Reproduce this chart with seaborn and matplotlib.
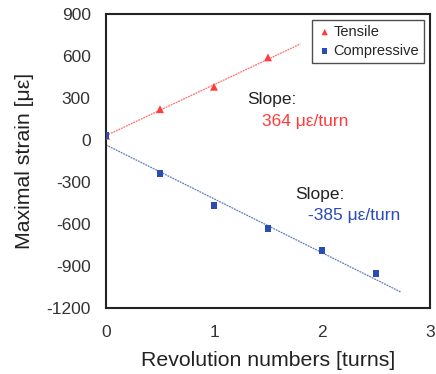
import numpy as np
import pandas as pd
import matplotlib
matplotlib.use("Agg")
import matplotlib.pyplot as plt
import seaborn as sns

tensile_x = [0, 0.5, 1.0, 1.5]
tensile_y = [30, 220, 380, 590]
comp_x = [0, 0.5, 1.0, 1.5, 2.0, 2.5]
comp_y = [30, -240, -470, -630, -790, -955]

# fitted lines: slope, intercept, x extent
tensile_fit = [364, 31]
tensile_fit_x = [0.0, 1.8]
comp_fit = [-385, -35]
comp_fit_x = [0.0, 2.73]

x_ticks = [0, 1, 2, 3]
y_ticks = [-1200, -900, -600, -300, 0, 300, 600, 900]

red = "#ff3b3b"
blue = "#2b4cb3"

sns.set_theme(style="white")
plt.rcParams['font.family'] = ['Liberation Sans', 'DejaVu Sans']
plt.rcParams['axes.unicode_minus'] = False

fig = plt.figure(figsize=(4.36, 3.74), dpi=100)
ax = fig.add_axes([106/436, 1-308/374, (430-106)/436, (308-14)/374])

tdf = pd.DataFrame({"x": tensile_x, "y": tensile_y})
cdf = pd.DataFrame({"x": comp_x, "y": comp_y})

fx_t = np.array(tensile_fit_x)
fx_c = np.array(comp_fit_x)
tline = pd.DataFrame({"x": fx_t, "y": tensile_fit[0]*fx_t + tensile_fit[1]})
cline = pd.DataFrame({"x": fx_c, "y": comp_fit[0]*fx_c + comp_fit[1]})
sns.lineplot(data=tline, x="x", y="y", ax=ax, color=red, lw=0.9, ls=(0, (1.5, 0.7)), alpha=0.75)
sns.lineplot(data=cline, x="x", y="y", ax=ax, color=blue, lw=0.9, ls=(0, (1.5, 0.7)), alpha=0.75)

sns.scatterplot(data=tdf, x="x", y="y", ax=ax, marker="^", color=red, s=32,
                edgecolor="none", label="Tensile", zorder=3)
sns.scatterplot(data=cdf, x="x", y="y", ax=ax, marker="s", color=blue, s=24,
                edgecolor="none", label="Compressive", zorder=3)

ax.set_xlim(0, 3)
ax.set_ylim(-1200, 900)
ax.set_xticks(x_ticks)
ax.set_yticks(y_ticks)
ax.set_xticks([0.5, 1.5, 2.5], minor=True)
ax.tick_params(axis="both", which="both", direction="in", length=4, width=1.2,
               labelsize=12.5, colors="black", labelcolor="#333333")
ax.tick_params(axis="y", pad=11)
ax.tick_params(axis="x", pad=12)
ax.tick_params(top=False, right=False)
for s in ax.spines.values():
    s.set_color("#222222")
    s.set_linewidth(1.5)

ax.set_xlabel("Revolution numbers [turns]", fontsize=15.3, color="#222222", labelpad=8)
ax.set_ylabel("Maximal strain [με]", fontsize=15.3, color="#222222", labelpad=9)

leg = ax.legend(loc="upper right", fontsize=10.5, frameon=True, fancybox=False,
                handletextpad=0.1, borderpad=0.35, labelspacing=0.35,
                handlelength=1.0, borderaxespad=0.4, markerscale=0.8)
leg.get_frame().set_edgecolor("#222222")
leg.get_frame().set_linewidth(1.0)

ax.text(1.31, 286, "Slope:", fontsize=12.5, color="#222222", va="center")
ax.text(1.44, 129, "364 με/turn", fontsize=12.5, color=red, va="center")
ax.text(1.75, -392, "Slope:", fontsize=12.5, color="#222222", va="center")
ax.text(1.87, -542, "-385 με/turn", fontsize=12.5, color=blue, va="center")

fig.savefig("out.png", dpi=100)
